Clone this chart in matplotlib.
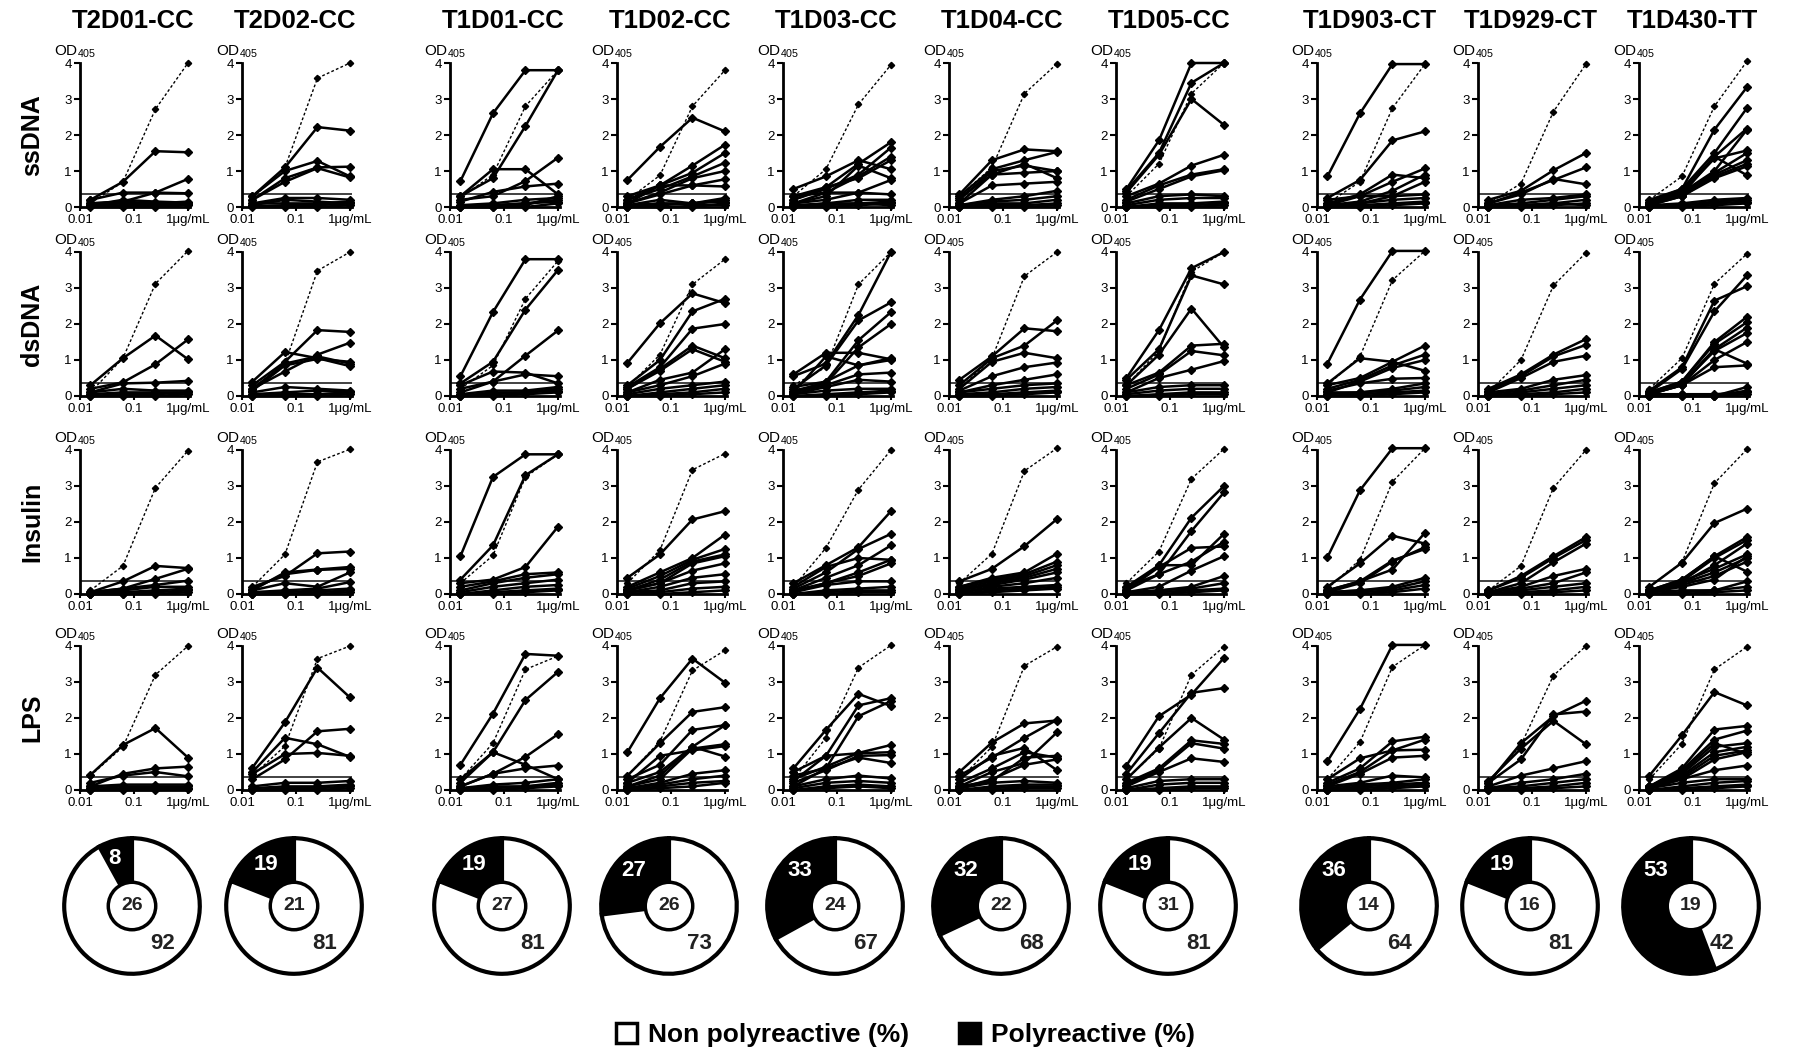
import numpy as np
import matplotlib
matplotlib.use('Agg')
import matplotlib.pyplot as plt
from matplotlib.patches import Patch, Circle
from matplotlib.ticker import NullLocator

plt.rcParams['font.family'] = ['Liberation Sans', 'DejaVu Sans']
plt.rcParams['mathtext.default'] = 'regular'

# ---- data -------------------------------------------------------------
donors = ['T2D01-CC', 'T2D02-CC', 'T1D01-CC', 'T1D02-CC', 'T1D03-CC',
          'T1D04-CC', 'T1D05-CC', 'T1D903-CT', 'T1D929-CT', 'T1D430-TT']
antigens = ['ssDNA', 'dsDNA', 'Insulin', 'LPS']
conc = [0.0156, 0.0625, 0.25, 1.0]   # ug/mL
cutoff = 0.36

poly_pct = [8, 19, 19, 27, 33, 32, 19, 36, 19, 53]
nonpoly_pct = [92, 81, 81, 73, 67, 68, 81, 64, 81, 42]
n_clones = [26, 21, 27, 26, 24, 22, 31, 14, 16, 19]

# each panel: first row = positive control (dashed), rest = clones (OD405)
ssDNA_T2D01 = [[0.1, 0.7, 2.72, 4.0], [0.2, 0.7, 1.55, 1.52], [0.2, 0.4, 0.4, 0.38],
               [0.1, 0.15, 0.4, 0.78], [0.05, 0.2, 0.15, 0.12], [0.05, 0.1, 0.1, 0.15],
               [0.02, 0.05, 0.05, 0.08], [0.0, 0.0, 0.0, 0.05], [0.1, 0.15, 0.1, 0.1]]
ssDNA_T2D02 = [[0.25, 1.1, 3.58, 4.0], [0.3, 1.1, 2.22, 2.12], [0.3, 1.0, 1.28, 0.85],
               [0.2, 0.8, 1.1, 1.12], [0.2, 0.7, 1.08, 0.82], [0.1, 0.25, 0.25, 0.2],
               [0.05, 0.2, 0.15, 0.1], [0.02, 0.05, 0.05, 0.1], [0.0, 0.0, 0.0, 0.05],
               [0.1, 0.1, 0.1, 0.15]]
ssDNA_T1D01 = [[0.25, 0.9, 2.8, 3.8], [0.72, 2.6, 3.8, 3.8], [0.3, 0.8, 2.25, 3.8],
               [0.3, 1.05, 1.05, 0.35], [0.2, 0.3, 0.72, 1.37], [0.15, 0.42, 0.57, 0.65],
               [0.05, 0.1, 0.2, 0.25], [0.0, 0.05, 0.1, 0.2], [0.0, 0.0, 0.05, 0.3],
               [0.02, 0.05, 0.1, 0.15], [0.0, 0.0, 0.0, 0.1]]
ssDNA_T1D02 = [[0.2, 0.88, 2.8, 3.8], [0.75, 1.67, 2.48, 2.1], [0.3, 0.6, 1.15, 1.73],
               [0.2, 0.6, 0.95, 1.5], [0.2, 0.5, 0.85, 1.23], [0.1, 0.4, 0.8, 1.0],
               [0.1, 0.6, 0.6, 0.77], [0.1, 0.35, 0.6, 0.57], [0.05, 0.2, 0.1, 0.25],
               [0.0, 0.1, 0.1, 0.15], [0.0, 0.05, 0.1, 0.2], [0.0, 0.0, 0.0, 0.1],
               [0.05, 0.1, 0.05, 0.05]]
ssDNA_T1D03 = [[0.3, 1.05, 2.85, 3.95], [0.5, 0.85, 1.3, 1.05], [0.3, 0.55, 1.2, 1.8],
               [0.2, 0.5, 0.9, 1.65], [0.1, 0.4, 0.85, 1.4], [0.1, 0.3, 1.15, 0.8],
               [0.2, 0.55, 0.8, 1.3], [0.1, 0.2, 0.4, 0.75], [0.3, 0.4, 0.4, 0.35],
               [0.05, 0.1, 0.2, 0.2], [0.0, 0.05, 0.1, 0.15], [0.0, 0.0, 0.05, 0.1],
               [0.02, 0.1, 0.1, 0.05]]
ssDNA_T1D04 = [[0.3, 1.1, 3.15, 3.98], [0.35, 1.3, 1.6, 1.55], [0.3, 1.05, 1.3, 1.53],
               [0.25, 0.9, 1.2, 0.8], [0.2, 1.0, 1.15, 1.0], [0.1, 0.9, 0.95, 1.0],
               [0.1, 0.6, 0.65, 0.7], [0.05, 0.2, 0.3, 0.45], [0.05, 0.15, 0.2, 0.3],
               [0.0, 0.1, 0.1, 0.2], [0.0, 0.05, 0.05, 0.1], [0.0, 0.0, 0.0, 0.05]]
ssDNA_T1D05 = [[0.3, 1.2, 3.15, 4.0], [0.5, 1.85, 4.0, 4.0], [0.45, 1.5, 3.45, 4.0],
               [0.4, 1.45, 3.0, 2.28], [0.3, 0.65, 1.15, 1.45], [0.2, 0.6, 0.9, 1.05],
               [0.15, 0.5, 0.85, 1.02], [0.1, 0.3, 0.35, 0.3], [0.05, 0.2, 0.25, 0.25],
               [0.0, 0.1, 0.1, 0.15], [0.0, 0.05, 0.05, 0.1], [0.0, 0.0, 0.0, 0.05]]
ssDNA_T1D903 = [[0.1, 0.7, 2.75, 3.97], [0.85, 2.6, 3.97, 3.97], [0.25, 0.75, 1.85, 2.1],
                [0.1, 0.35, 0.9, 0.8], [0.05, 0.3, 0.7, 1.07], [0.05, 0.15, 0.45, 0.9],
                [0.0, 0.1, 0.3, 0.7], [0.2, 0.3, 0.3, 0.35], [0.05, 0.1, 0.2, 0.25],
                [0.0, 0.05, 0.1, 0.15], [0.0, 0.0, 0.05, 0.1]]
ssDNA_T1D929 = [[0.1, 0.65, 2.65, 3.97], [0.2, 0.45, 1.02, 1.5], [0.1, 0.4, 0.75, 1.1],
                [0.1, 0.35, 0.78, 0.63], [0.05, 0.2, 0.25, 0.35], [0.05, 0.1, 0.2, 0.3],
                [0.0, 0.05, 0.1, 0.2], [0.0, 0.0, 0.05, 0.1], [0.0, 0.05, 0.1, 0.05]]
ssDNA_T1D430 = [[0.2, 0.85, 2.8, 4.05], [0.2, 0.5, 2.15, 3.33], [0.15, 0.5, 1.5, 2.75],
                [0.1, 0.45, 1.4, 2.18], [0.1, 0.4, 1.0, 2.15], [0.1, 0.4, 1.35, 1.57],
                [0.1, 0.35, 0.95, 1.5], [0.1, 0.3, 0.9, 1.3], [0.05, 0.3, 0.85, 1.2],
                [0.05, 0.3, 0.8, 1.13], [0.1, 0.35, 1.4, 0.88], [0.05, 0.1, 0.2, 0.25],
                [0.0, 0.05, 0.15, 0.2], [0.0, 0.05, 0.1, 0.15], [0.0, 0.0, 0.05, 0.1]]

dsDNA_T2D01 = [[0.1, 1.05, 3.12, 4.03], [0.3, 1.05, 1.68, 1.02], [0.2, 0.38, 0.88, 1.57],
               [0.1, 0.35, 0.37, 0.42], [0.1, 0.2, 0.15, 0.15], [0.05, 0.1, 0.1, 0.1],
               [0.0, 0.05, 0.05, 0.1], [0.0, 0.0, 0.0, 0.05]]
dsDNA_T2D02 = [[0.2, 0.9, 3.48, 4.0], [0.4, 1.22, 1.05, 0.83], [0.3, 0.95, 1.83, 1.78],
               [0.2, 0.68, 1.15, 1.48], [0.15, 0.85, 1.03, 0.95], [0.2, 0.9, 1.1, 0.9],
               [0.1, 0.25, 0.2, 0.15], [0.05, 0.1, 0.15, 0.1], [0.0, 0.05, 0.05, 0.1],
               [0.0, 0.0, 0.0, 0.05]]
dsDNA_T1D01 = [[0.2, 0.85, 2.7, 3.75], [0.55, 2.33, 3.8, 3.8], [0.35, 0.95, 2.4, 3.5],
               [0.2, 0.4, 1.12, 1.82], [0.3, 0.68, 0.65, 0.35], [0.1, 0.4, 0.6, 0.55],
               [0.05, 0.15, 0.15, 0.25], [0.0, 0.05, 0.1, 0.2], [0.0, 0.0, 0.05, 0.1],
               [0.0, 0.1, 0.1, 0.15]]
dsDNA_T1D02 = [[0.25, 1.15, 3.1, 3.8], [0.92, 2.02, 2.85, 2.58], [0.3, 1.0, 2.35, 2.7],
               [0.25, 0.8, 1.87, 2.0], [0.2, 0.75, 1.4, 1.05], [0.2, 0.7, 1.3, 0.95],
               [0.1, 0.45, 0.65, 1.3], [0.1, 0.3, 0.55, 0.9], [0.05, 0.2, 0.3, 0.4],
               [0.0, 0.1, 0.2, 0.3], [0.0, 0.05, 0.1, 0.2], [0.0, 0.0, 0.05, 0.1]]
dsDNA_T1D03 = [[0.3, 0.8, 3.1, 4.0], [0.55, 0.9, 2.25, 4.0], [0.6, 1.2, 1.2, 1.02],
               [0.2, 0.85, 2.1, 2.6], [0.25, 0.4, 1.55, 2.33], [0.15, 0.35, 1.35, 2.0],
               [0.1, 1.1, 0.85, 1.0], [0.1, 0.4, 0.85, 1.05], [0.1, 0.3, 0.6, 0.65],
               [0.05, 0.25, 0.45, 0.4], [0.05, 0.15, 0.2, 0.2], [0.0, 0.05, 0.1, 0.15],
               [0.0, 0.0, 0.05, 0.1]]
dsDNA_T1D04 = [[0.2, 1.05, 3.33, 4.0], [0.45, 1.1, 1.88, 1.8], [0.3, 1.05, 1.4, 2.1],
               [0.2, 0.95, 1.2, 1.05], [0.15, 0.55, 0.8, 0.93], [0.1, 0.3, 0.45, 0.6],
               [0.1, 0.2, 0.3, 0.35], [0.05, 0.1, 0.2, 0.25], [0.0, 0.05, 0.1, 0.15],
               [0.0, 0.0, 0.05, 0.1]]
dsDNA_T1D05 = [[0.3, 1.25, 3.45, 4.0], [0.5, 1.83, 3.55, 4.0], [0.45, 1.3, 3.35, 3.1],
               [0.3, 1.15, 2.43, 1.35], [0.3, 0.65, 1.4, 1.45], [0.2, 0.6, 1.25, 1.13],
               [0.1, 0.5, 0.73, 0.97], [0.1, 0.25, 0.3, 0.3], [0.05, 0.15, 0.2, 0.2],
               [0.0, 0.05, 0.1, 0.1], [0.0, 0.0, 0.05, 0.05]]
dsDNA_T1D903 = [[0.3, 1.1, 3.22, 4.03], [0.9, 2.68, 4.03, 4.03], [0.35, 1.05, 0.95, 0.7],
                [0.3, 0.5, 0.95, 1.4], [0.2, 0.45, 0.85, 1.15], [0.1, 0.4, 0.78, 1.0],
                [0.15, 0.35, 0.48, 0.5], [0.1, 0.1, 0.2, 0.35], [0.05, 0.1, 0.15, 0.25],
                [0.0, 0.05, 0.1, 0.15], [0.0, 0.0, 0.05, 0.1]]
dsDNA_T1D929 = [[0.1, 1.0, 3.07, 3.98], [0.2, 0.6, 1.15, 1.58], [0.15, 0.55, 1.1, 1.42],
                [0.1, 0.5, 0.95, 1.12], [0.1, 0.2, 0.45, 0.58], [0.05, 0.15, 0.3, 0.45],
                [0.0, 0.1, 0.2, 0.3], [0.0, 0.05, 0.1, 0.2], [0.0, 0.0, 0.05, 0.1]]
dsDNA_T1D430 = [[0.2, 1.05, 3.12, 3.95], [0.15, 0.8, 2.65, 3.05], [0.1, 0.75, 2.35, 3.35],
                [0.1, 0.4, 1.5, 2.2], [0.1, 0.4, 1.45, 2.05], [0.1, 0.35, 1.3, 1.9],
                [0.05, 0.35, 1.25, 1.75], [0.05, 0.3, 1.0, 1.5], [0.05, 0.3, 1.3, 0.9],
                [0.05, 0.3, 0.8, 0.85], [0.0, 0.05, 0.0, 0.25], [0.0, 0.0, 0.0, 0.15],
                [0.05, 0.05, 0.05, 0.1], [0.0, 0.0, 0.0, 0.05]]

Insulin_T2D01 = [[0.1, 0.78, 2.95, 3.98], [0.05, 0.35, 0.78, 0.72], [0.05, 0.15, 0.42, 0.7],
                 [0.05, 0.15, 0.25, 0.37], [0.0, 0.1, 0.2, 0.2], [0.0, 0.05, 0.1, 0.15],
                 [0.0, 0.0, 0.05, 0.1], [0.0, 0.0, 0.0, 0.05]]
Insulin_T2D02 = [[0.2, 1.1, 3.67, 4.02], [0.2, 0.5, 1.13, 1.18], [0.1, 0.6, 0.68, 0.75],
                 [0.15, 0.55, 0.67, 0.7], [0.1, 0.3, 0.2, 0.6], [0.05, 0.1, 0.15, 0.33],
                 [0.0, 0.05, 0.1, 0.15], [0.0, 0.0, 0.05, 0.1], [0.0, 0.0, 0.0, 0.05]]
Insulin_T1D01 = [[0.3, 1.07, 3.25, 3.88], [1.05, 3.25, 3.88, 3.88], [0.4, 1.35, 3.3, 3.88],
                 [0.3, 0.4, 0.75, 1.87], [0.2, 0.35, 0.55, 0.6], [0.1, 0.3, 0.45, 0.55],
                 [0.05, 0.2, 0.3, 0.4], [0.0, 0.1, 0.2, 0.25], [0.0, 0.05, 0.1, 0.15],
                 [0.0, 0.0, 0.05, 0.1]]
Insulin_T1D02 = [[0.3, 1.22, 3.45, 3.9], [0.45, 1.1, 2.07, 2.3], [0.2, 0.6, 1.0, 1.65],
                 [0.15, 0.5, 0.95, 1.25], [0.1, 0.4, 0.9, 1.1], [0.1, 0.3, 0.85, 1.05],
                 [0.1, 0.3, 0.65, 0.85], [0.05, 0.2, 0.45, 0.55], [0.05, 0.1, 0.3, 0.35],
                 [0.0, 0.05, 0.15, 0.2], [0.0, 0.0, 0.05, 0.1]]
Insulin_T1D03 = [[0.2, 1.28, 2.9, 4.0], [0.3, 0.8, 1.3, 2.3], [0.2, 0.75, 1.0, 0.95],
                 [0.15, 0.6, 1.25, 1.67], [0.1, 0.45, 0.8, 1.35], [0.1, 0.3, 0.6, 0.95],
                 [0.05, 0.3, 0.5, 0.85], [0.05, 0.25, 0.35, 0.35], [0.0, 0.1, 0.15, 0.2],
                 [0.0, 0.05, 0.1, 0.1], [0.0, 0.0, 0.05, 0.05]]
Insulin_T1D04 = [[0.3, 1.12, 3.42, 4.05], [0.35, 0.7, 1.33, 2.08], [0.2, 0.45, 0.6, 1.12],
                 [0.2, 0.4, 0.55, 0.9], [0.15, 0.35, 0.5, 0.8], [0.1, 0.3, 0.45, 0.7],
                 [0.1, 0.25, 0.4, 0.6], [0.05, 0.2, 0.3, 0.45], [0.05, 0.15, 0.2, 0.25],
                 [0.0, 0.1, 0.15, 0.2], [0.0, 0.05, 0.1, 0.15]]
Insulin_T1D05 = [[0.3, 1.18, 3.2, 4.03], [0.2, 0.8, 2.12, 3.0], [0.2, 0.55, 1.75, 2.82],
                 [0.1, 0.75, 1.28, 1.32], [0.1, 0.8, 0.8, 1.67], [0.1, 0.55, 0.9, 1.45],
                 [0.05, 0.2, 0.65, 1.05], [0.05, 0.1, 0.2, 0.5], [0.0, 0.1, 0.15, 0.3],
                 [0.0, 0.05, 0.1, 0.15], [0.0, 0.0, 0.05, 0.1]]
Insulin_T1D903 = [[0.15, 0.95, 3.12, 4.05], [1.02, 2.88, 4.05, 4.05], [0.2, 0.85, 1.62, 1.4],
                  [0.1, 0.35, 0.93, 1.25], [0.1, 0.35, 0.68, 1.7], [0.05, 0.3, 0.9, 1.3],
                  [0.05, 0.1, 0.2, 0.45], [0.05, 0.1, 0.15, 0.35], [0.0, 0.05, 0.1, 0.25],
                  [0.0, 0.0, 0.05, 0.15]]
Insulin_T1D929 = [[0.1, 0.78, 2.95, 4.0], [0.1, 0.5, 1.05, 1.58], [0.1, 0.45, 1.0, 1.5],
                  [0.05, 0.3, 0.88, 1.4], [0.05, 0.2, 0.5, 0.7], [0.05, 0.15, 0.3, 0.6],
                  [0.0, 0.1, 0.2, 0.3], [0.0, 0.05, 0.1, 0.2], [0.0, 0.0, 0.05, 0.1]]
Insulin_T1D430 = [[0.2, 0.88, 3.08, 4.02], [0.2, 0.87, 1.97, 2.37], [0.1, 0.4, 1.05, 1.58],
                  [0.1, 0.35, 1.0, 1.5], [0.1, 0.3, 0.8, 1.4], [0.1, 0.35, 0.7, 1.1],
                  [0.05, 0.3, 0.6, 1.0], [0.05, 0.25, 0.5, 0.9], [0.1, 0.4, 1.05, 0.62],
                  [0.05, 0.2, 0.4, 1.05], [0.05, 0.1, 0.1, 0.35], [0.0, 0.05, 0.1, 0.2],
                  [0.0, 0.0, 0.05, 0.1]]

LPS_T2D01 = [[0.4, 1.2, 3.2, 4.0], [0.42, 1.25, 1.72, 0.9], [0.1, 0.45, 0.6, 0.65],
             [0.2, 0.4, 0.5, 0.38], [0.1, 0.15, 0.15, 0.15], [0.05, 0.1, 0.1, 0.1],
             [0.0, 0.05, 0.05, 0.05], [0.0, 0.0, 0.0, 0.02]]
LPS_T2D02 = [[0.4, 1.22, 3.65, 4.0], [0.62, 1.88, 3.4, 2.57], [0.5, 1.45, 1.27, 0.92],
             [0.45, 1.0, 1.03, 0.95], [0.3, 0.85, 1.63, 1.7], [0.1, 0.2, 0.2, 0.25],
             [0.05, 0.1, 0.1, 0.15], [0.0, 0.05, 0.05, 0.1], [0.0, 0.0, 0.0, 0.05]]
LPS_T1D01 = [[0.3, 1.3, 3.35, 3.72], [0.7, 2.12, 3.78, 3.73], [0.2, 1.05, 2.5, 3.28],
             [0.1, 0.45, 0.92, 1.55], [0.3, 1.05, 0.7, 0.3], [0.1, 0.45, 0.6, 0.68],
             [0.05, 0.15, 0.2, 0.3], [0.0, 0.05, 0.1, 0.2], [0.0, 0.0, 0.05, 0.1],
             [0.05, 0.1, 0.1, 0.15]]
LPS_T1D02 = [[0.4, 1.35, 3.32, 3.88], [1.05, 2.55, 3.65, 2.98], [0.4, 1.3, 2.17, 2.3],
             [0.3, 0.7, 1.67, 1.8], [0.2, 0.5, 1.2, 1.8], [0.2, 0.95, 1.1, 1.22],
             [0.1, 0.4, 1.2, 0.93], [0.1, 0.3, 1.15, 1.27], [0.05, 0.2, 0.45, 0.55],
             [0.05, 0.15, 0.3, 0.4], [0.0, 0.1, 0.2, 0.25], [0.0, 0.05, 0.1, 0.2]]
LPS_T1D03 = [[0.3, 1.45, 3.4, 4.02], [0.6, 1.67, 2.67, 2.33], [0.5, 0.95, 2.35, 2.55],
             [0.4, 0.6, 2.05, 2.47], [0.3, 0.65, 1.03, 1.25], [0.25, 0.95, 1.02, 1.05],
             [0.2, 0.55, 0.95, 0.97], [0.1, 0.6, 0.9, 0.75], [0.1, 0.3, 0.4, 0.32],
             [0.05, 0.2, 0.25, 0.2], [0.0, 0.1, 0.15, 0.1], [0.0, 0.05, 0.1, 0.05]]
LPS_T1D04 = [[0.3, 1.2, 3.45, 3.98], [0.5, 1.32, 1.85, 1.93], [0.4, 0.9, 1.45, 1.95],
             [0.3, 0.95, 1.17, 0.55], [0.2, 0.6, 1.05, 0.9], [0.1, 0.5, 0.75, 1.6],
             [0.1, 0.25, 0.9, 0.95], [0.05, 0.3, 0.7, 0.85], [0.05, 0.2, 0.25, 0.2],
             [0.0, 0.1, 0.15, 0.15], [0.0, 0.05, 0.1, 0.1], [0.0, 0.0, 0.05, 0.05]]
LPS_T1D05 = [[0.3, 1.15, 3.2, 3.98], [0.68, 2.05, 2.65, 3.67], [0.45, 1.58, 2.7, 2.83],
             [0.3, 1.18, 2.0, 1.4], [0.2, 0.6, 1.38, 1.28], [0.15, 0.55, 1.3, 1.15],
             [0.1, 0.5, 0.88, 0.78], [0.05, 0.25, 0.3, 0.3], [0.0, 0.15, 0.2, 0.2],
             [0.0, 0.05, 0.1, 0.1], [0.0, 0.0, 0.05, 0.05]]
LPS_T1D903 = [[0.3, 1.33, 3.42, 4.03], [0.8, 2.25, 4.03, 4.03], [0.3, 0.88, 1.1, 1.12],
              [0.2, 0.6, 1.35, 1.48], [0.15, 0.5, 1.1, 1.4], [0.1, 0.45, 0.9, 0.95],
              [0.1, 0.2, 0.4, 0.35], [0.05, 0.15, 0.2, 0.3], [0.0, 0.1, 0.15, 0.2],
              [0.0, 0.05, 0.1, 0.15], [0.0, 0.0, 0.05, 0.1]]
LPS_T1D929 = [[0.2, 1.25, 3.18, 4.0], [0.2, 1.3, 2.05, 2.48], [0.25, 1.15, 1.92, 1.27],
              [0.2, 0.85, 2.1, 2.18], [0.1, 0.4, 0.6, 0.8], [0.05, 0.2, 0.3, 0.45],
              [0.05, 0.1, 0.2, 0.3], [0.0, 0.05, 0.1, 0.2], [0.0, 0.0, 0.05, 0.1]]
LPS_T1D430 = [[0.3, 1.28, 3.35, 3.98], [0.4, 1.52, 2.72, 2.35], [0.1, 0.6, 1.68, 1.78],
              [0.1, 0.55, 1.4, 1.65], [0.1, 0.5, 1.3, 1.0], [0.05, 0.45, 1.2, 1.3],
              [0.05, 0.4, 1.05, 1.2], [0.05, 0.35, 0.95, 1.1], [0.05, 0.3, 0.85, 1.05],
              [0.05, 0.3, 0.55, 0.68], [0.05, 0.2, 0.3, 0.3], [0.0, 0.1, 0.2, 0.25],
              [0.0, 0.05, 0.1, 0.15], [0.0, 0.0, 0.05, 0.1]]

ssDNA = [ssDNA_T2D01, ssDNA_T2D02, ssDNA_T1D01, ssDNA_T1D02, ssDNA_T1D03,
         ssDNA_T1D04, ssDNA_T1D05, ssDNA_T1D903, ssDNA_T1D929, ssDNA_T1D430]
dsDNA = [dsDNA_T2D01, dsDNA_T2D02, dsDNA_T1D01, dsDNA_T1D02, dsDNA_T1D03,
         dsDNA_T1D04, dsDNA_T1D05, dsDNA_T1D903, dsDNA_T1D929, dsDNA_T1D430]
Insulin = [Insulin_T2D01, Insulin_T2D02, Insulin_T1D01, Insulin_T1D02, Insulin_T1D03,
           Insulin_T1D04, Insulin_T1D05, Insulin_T1D903, Insulin_T1D929, Insulin_T1D430]
LPS = [LPS_T2D01, LPS_T2D02, LPS_T1D01, LPS_T1D02, LPS_T1D03,
       LPS_T1D04, LPS_T1D05, LPS_T1D903, LPS_T1D929, LPS_T1D430]
panel_data = [ssDNA, dsDNA, Insulin, LPS]

# ---- layout (pixels) --------------------------------------------------
W, H = 1811, 1051
col_x = [80, 242, 450, 617, 783, 949, 1116, 1317, 1478, 1639]
row_top = [63, 252, 450, 646]
ax_w, ax_h = 110, 144

fig = plt.figure(figsize=(W / 100, H / 100), dpi=100)

for r, antigen in enumerate(antigens):
    top = row_top[r]
    fig.text(32 / W, 1 - (top + ax_h / 2) / H, antigen, rotation=90,
             fontsize=18, fontweight='bold', ha='center', va='center')
    for c, donor in enumerate(donors):
        ax = fig.add_axes([col_x[c] / W, 1 - (top + ax_h) / H, ax_w / W, ax_h / H])
        ax.set_xscale('log')
        ax.set_xlim(0.01, 1.09)
        ax.set_ylim(0, 4)
        lines = panel_data[r][c]
        for vals in lines[1:]:
            ax.plot(conc, vals, '-', color='black', lw=1.8, marker='D', ms=3.8,
                    clip_on=False, zorder=3)
        ax.plot(conc, lines[0], color='black', ls=(0, (2, 1.6)), lw=1.0,
                marker='D', ms=3.2, clip_on=False, zorder=4)
        ax.axhline(cutoff, color='#333333', lw=1.3, zorder=2)

        for s in ['top', 'right']:
            ax.spines[s].set_visible(False)
        for s in ['left', 'bottom']:
            ax.spines[s].set_linewidth(2.0)
        ax.set_yticks([0, 1, 2, 3, 4])
        ax.set_xticks([0.01, 0.1, 1])
        ax.set_xticklabels(['0.01', '0.1', '1\u03bcg/mL'])
        ax.xaxis.set_minor_locator(NullLocator())
        ax.tick_params(axis='y', direction='out', length=4, width=1.5,
                       labelsize=9.5, pad=2)
        ax.tick_params(axis='x', direction='out', length=3, width=1.5,
                       labelsize=9.5, pad=2)
        ax.text(-0.24, 1.05, r'OD$_{405}$', transform=ax.transAxes,
                fontsize=11, ha='left', va='baseline')

        if r == 0:
            fig.text((col_x[c] + 53) / W, 1 - 21 / H, donor, fontsize=18.5,
                     fontweight='bold', ha='center', va='center')

# ---- donuts -----------------------------------------------------------
d_size = 160
d_cy = 906
for c in range(len(donors)):
    cx = col_x[c] + 52
    dax = fig.add_axes([(cx - d_size / 2) / W, 1 - (d_cy + d_size / 2) / H,
                        d_size / W, d_size / H])
    p, q = poly_pct[c], nonpoly_pct[c]
    dax.pie([p, q], colors=['black', 'white'], startangle=90, counterclock=True,
            radius=1.0, wedgeprops=dict(edgecolor='black', linewidth=3))
    dax.add_patch(Circle((0, 0), 0.35, facecolor='white', edgecolor='black',
                         lw=2.5, zorder=5))
    dax.set_xlim(-1.18, 1.18)
    dax.set_ylim(-1.18, 1.18)
    dax.set_aspect('equal')
    dax.axis('off')
    ang = np.deg2rad(90 + min(max(p * 1.8, 20), 45))
    dax.text(0.74 * np.cos(ang), 0.74 * np.sin(ang), str(p), color='white',
             fontsize=16, fontweight='bold', ha='center', va='center', zorder=6)
    dax.text(0.45, -0.55, str(q), color='#222222', fontsize=16,
             fontweight='bold', ha='center', va='center', zorder=6)
    dax.text(0, 0, str(n_clones[c]), color='#222222', fontsize=14,
             fontweight='bold', ha='center', va='center', zorder=7)

# ---- legend -----------------------------------------------------------
handles = [Patch(facecolor='white', edgecolor='black', lw=2.5),
           Patch(facecolor='black', edgecolor='black', lw=2.5)]
fig.legend(handles, ['Non polyreactive (%)', 'Polyreactive (%)'], loc='center',
           bbox_to_anchor=(0.5, 1 - 1035 / H), ncol=2, frameon=False,
           prop={'weight': 'bold', 'size': 19}, handlelength=0.8,
           handleheight=0.8, handletextpad=0.4, columnspacing=1.9)

fig.savefig('out.png', dpi=100)
